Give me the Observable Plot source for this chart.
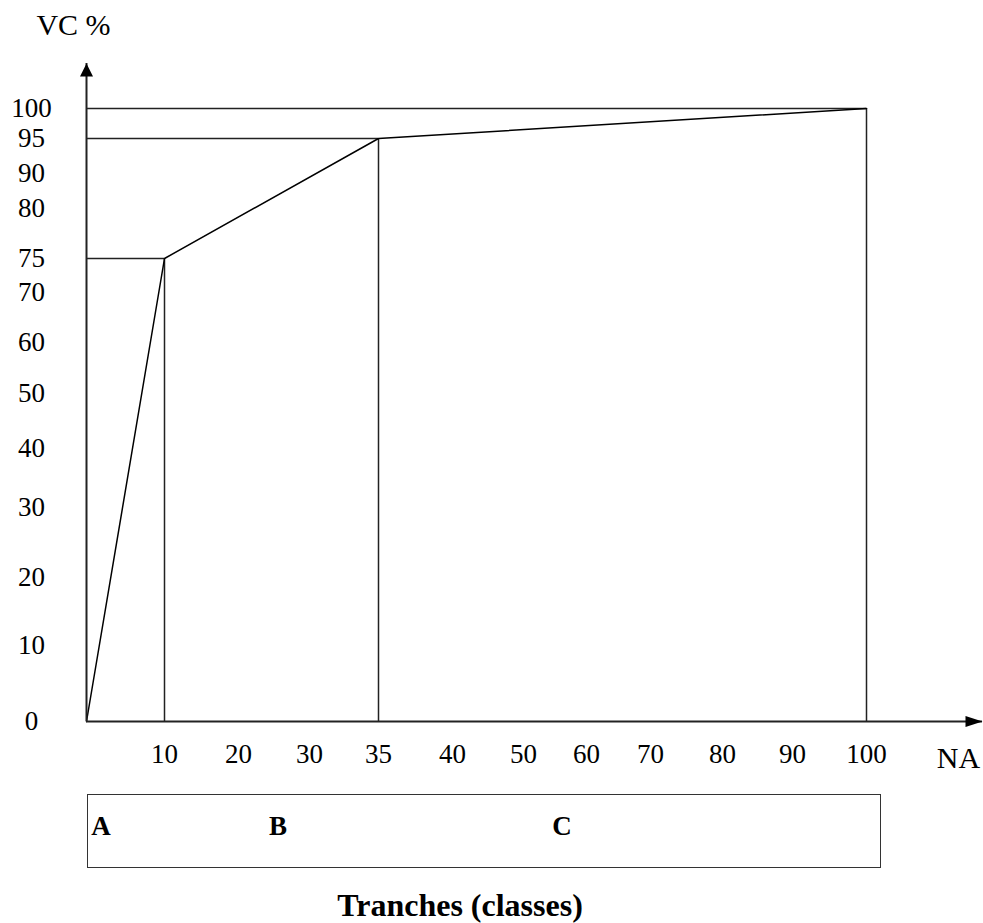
<!DOCTYPE html>
<html>
<head>
<meta charset="utf-8">
<script src="https://cdn.jsdelivr.net/npm/d3@7"></script>
<script src="https://cdn.jsdelivr.net/npm/@observablehq/plot@0.6"></script>
<style>
  html, body { margin: 0; padding: 0; background: #fff; }
  #wrap { position: relative; width: 983px; height: 923px; font-family: "Liberation Serif", "Times New Roman", serif; color: #000; }
  #wrap svg { position: absolute; left: 0; top: 0; }
  .box { position: absolute; left: 87px; top: 794px; width: 794px; height: 74px; border: 1.5px solid #333; box-sizing: border-box; }
  .cls { position: absolute; top: 811px; font-weight: bold; font-size: 27px; line-height: 30px; transform: translateX(-50%); }
  .caption { position: absolute; left: 460px; top: 890px; font-weight: bold; font-size: 32px; line-height: 30px; transform: translateX(-50%); white-space: nowrap; }
</style>
</head>
<body>
<div id="wrap"></div>
<script>
// ---- data ----
const naValues = [0, 10, 35, 100];        // NA (cumulative % of items)
const vcValues = [0, 75, 95, 100];        // VC % (cumulative % of value)
const xTicks = [10, 20, 30, 35, 40, 50, 60, 70, 80, 90, 100];
const yTicks = [0, 10, 20, 30, 40, 50, 60, 70, 75, 80, 90, 95, 100];
const classes = ["A", "B", "C"];
const yTitle = "VC %";
const xTitle = "NA";
const caption = "Tranches (classes)";

// ---- layout (hand-placed piecewise positions of the original drawing) ----
const xDomain = [0, ...xTicks];
const xRange = [86, 164, 238, 309, 378, 452, 523, 586, 650, 722, 792, 866];
const yRange = [721, 645, 577, 507, 448, 393, 342, 292, 258, 208, 173, 138, 108];
const classCenters = [101, 278, 562];

const pts = naValues.map((x, i) => ({x, y: vcValues[i]}));
const corners = pts.slice(1);

const arrowUp = {draw(ctx) { ctx.moveTo(0, 0); ctx.lineTo(-6.5, 13); ctx.lineTo(6.5, 13); ctx.closePath(); }};
const arrowRight = {draw(ctx) { ctx.moveTo(0, 0); ctx.lineTo(-17, -5.5); ctx.lineTo(-17, 5.5); ctx.closePath(); }};

const ink = "#222";

const chart = Plot.plot({
  width: 983,
  height: 790,
  marginLeft: 86,
  marginRight: 1,
  marginTop: 63,
  marginBottom: 69,
  style: {fontFamily: "'Liberation Serif', 'Times New Roman', serif", fontSize: "27px", color: "#000", background: "transparent"},
  x: {type: "linear", domain: xDomain, range: xRange},
  y: {type: "linear", domain: yTicks, range: yRange},
  marks: [
    // reference lines
    Plot.ruleY(corners, {y: "y", x1: 0, x2: "x", stroke: ink, strokeWidth: 1.5}),
    Plot.ruleX(corners, {x: "x", y1: 0, y2: "y", stroke: ink, strokeWidth: 1.5}),
    // cumulative curve
    Plot.line(pts, {x: "x", y: "y", stroke: "#000", strokeWidth: 1.5}),
    // axes lines + arrowheads
    Plot.ruleX([0], {stroke: ink, strokeWidth: 2}),
    Plot.ruleY([0], {stroke: ink, strokeWidth: 2}),
    Plot.dot([0], {x: d => d, frameAnchor: "top", symbol: arrowUp, fill: "#000", stroke: "none"}),
    Plot.dot([0], {y: d => d, frameAnchor: "right", symbol: arrowRight, fill: "#000", stroke: "none"}),
    // tick labels
    Plot.axisX({ticks: xTicks, tickSize: 0, tickPadding: 22, label: null, tickFormat: d => String(d), fill: "#000", fontSize: 27}),
    Plot.axisY({ticks: yTicks, tickSize: 0, tickPadding: 55, label: null, textAnchor: "middle", tickFormat: d => String(d), fill: "#000", fontSize: 27}),
    // axis titles
    Plot.text([yTitle], {frameAnchor: "top-left", lineAnchor: "middle", dx: -13, dy: -38, textAnchor: "middle", fontSize: 30, fill: "#000"}),
    Plot.text([xTitle], {frameAnchor: "bottom-right", lineAnchor: "middle", dx: -24, dy: 37, textAnchor: "middle", fontSize: 30, fill: "#000"})
  ]
});

const wrap = document.getElementById("wrap");
wrap.appendChild(chart);

const box = document.createElement("div");
box.className = "box";
wrap.appendChild(box);
classes.forEach((c, i) => {
  const s = document.createElement("div");
  s.className = "cls";
  s.style.left = classCenters[i] + "px";
  s.textContent = c;
  wrap.appendChild(s);
});
const cap = document.createElement("div");
cap.className = "caption";
cap.textContent = caption;
wrap.appendChild(cap);
</script>
</body>
</html>
